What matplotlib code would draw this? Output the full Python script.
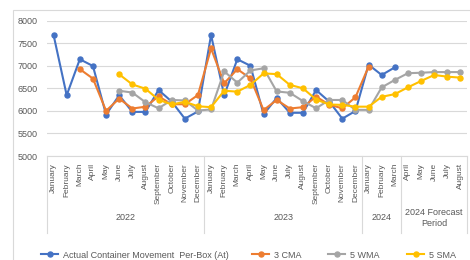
import numpy as np
import matplotlib
matplotlib.use("Agg")
import matplotlib.pyplot as plt
from matplotlib.lines import Line2D
from matplotlib.patches import Rectangle
from matplotlib.transforms import blended_transform_factory

plt.rcParams['font.family'] = ['Liberation Sans', 'DejaVu Sans']

months = ["January", "February", "March", "April", "May", "June", "July", "August",
          "September", "October", "November", "December",
          "January", "February", "March", "April", "May", "June", "July", "August",
          "September", "October", "November", "December",
          "January", "February", "March",
          "April", "May", "June", "July", "August"]
groups = ["2022", "2023", "2024", "2024 Forecast\nPeriod"]
group_sizes = [12, 12, 3, 5]

nan = np.nan
actual = [7690, 6350, 7150, 7000, 5920, 6350, 5980, 5980, 6465, 6210, 5830, 5990,
          7690, 6350, 7150, 7005, 5925, 6290, 5960, 5960, 6465, 6210, 5830, 6000,
          7030, 6800, 6970,
          nan, nan, nan, nan, nan]
cma3 = [nan, nan, 6930, 6720, 6005, 6275, 6055, 6095, 6325, 6150, 6150, 6355,
        7390, 6615, 6930, 6725, 6020, 6245, 6055, 6085, 6320, 6140, 6060, 6305,
        6985, nan, nan,
        nan, nan, nan, nan, nan]
wma5 = [nan, nan, nan, nan, nan, 6450, 6410, 6195, 6060, 6245, 6235, 6010,
        6035, 6880, 6630, 6900, 6950, 6435, 6405, 6220, 6060, 6245, 6245, 6025,
        6025, 6525, 6690,
        6840, 6850, 6865, 6865, 6865]
sma5 = [nan, nan, nan, nan, nan, 6815, 6590, 6495, 6250, 6145, 6205, 6105,
        6085, 6450, 6430, 6580, 6835, 6820, 6580, 6505, 6255, 6145, 6135, 6096,
        6096, 6315, 6375,
        6526, 6667, 6800, 6763, 6741]

labels = ["Actual Container Movement  Per-Box (At)", "3 CMA", "5 WMA", "5 SMA"]
colors = ["#4472C4", "#ED7D31", "#A5A5A5", "#FFC000"]

W, H = 470, 260
fig = plt.figure(figsize=(W / 100, H / 100), dpi=100)
fig.patches.append(Rectangle((13 / W, -0.1), 1.2, (1 - 10 / H) + 0.1,
                             transform=fig.transFigure, fill=False,
                             edgecolor="#D9D9D9", linewidth=0.8))

ax = fig.add_axes([47 / W, 1 - 156 / H, (467 - 47) / W, (156 - 21) / H])
x = np.arange(len(months))
handles = []
for data, lab, col in zip([actual, cma3, wma5, sma5], labels, colors):
    h, = ax.plot(x, np.array(data, dtype=float), color=col, linewidth=1.5,
                 marker="o", markersize=3.6, label=lab)
    handles.append(h)

ax.set_xlim(-0.5, len(months) - 0.5)
ax.set_ylim(5000, 8000)
ax.set_yticks(np.arange(5000, 8001, 500))
ax.yaxis.grid(True, color="#D9D9D9", linewidth=0.8)
ax.set_axisbelow(True)
for s in ["left", "right", "top"]:
    ax.spines[s].set_visible(False)
ax.spines["bottom"].set_color("#D9D9D9")
ax.tick_params(axis="y", length=0, pad=7, labelsize=6.5, labelcolor="#595959")
ax.set_xticks(x)
ax.set_xticklabels(months, rotation=90, fontsize=6, color="#595959", va="top")
ax.tick_params(axis="x", length=0, pad=5)

# multi-level category separators and group labels
trans = blended_transform_factory(ax.transData, ax.transAxes)
sep_bottom = -(233 - 156) / (156 - 21)
bounds = np.concatenate([[0], np.cumsum(group_sizes)]) - 0.5
for b in bounds:
    ax.add_line(Line2D([b, b], [0, sep_bottom], transform=trans, color="#D9D9D9",
                       linewidth=0.8, clip_on=False))
grp_y = -(218 - 156) / (156 - 21)
for i, g in enumerate(groups):
    cx = (bounds[i] + bounds[i + 1]) / 2
    ax.text(cx, grp_y, g, transform=trans, ha="center", va="center",
            fontsize=6.5, color="#595959", linespacing=1.35)

# legend entries placed individually (Excel-style spacing)
leg_x = [41, 252, 328, 407]
for h, lab, lx in zip(handles, labels, leg_x):
    fig.legend(handles=[h], labels=[lab], loc="center left",
               bbox_to_anchor=(lx / W, 1 - 255 / H), frameon=False,
               fontsize=6.5, handlelength=1.9, handletextpad=0.5,
               borderpad=0, borderaxespad=0, labelcolor="#595959")

fig.savefig("out.png", dpi=100)
